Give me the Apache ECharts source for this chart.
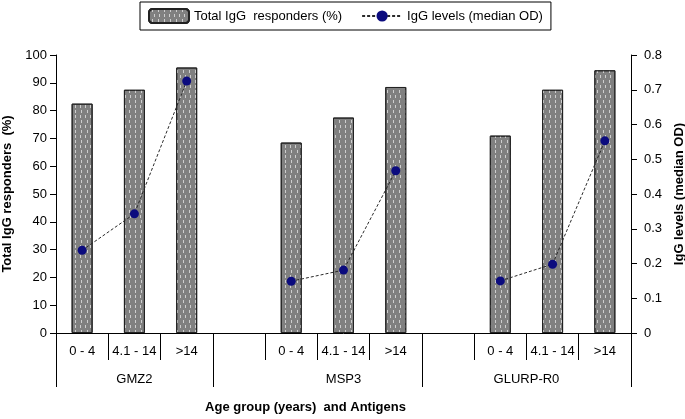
<!DOCTYPE html>
<html>
<head>
<meta charset="utf-8">
<script src="https://cdn.jsdelivr.net/npm/echarts@6/dist/echarts.min.js"></script>
<style>html,body{margin:0;padding:0;background:#fff}#c{width:685px;height:419px}</style>
</head>
<body>
<div id="c"></div>
<script>
const antigens = ['GMZ2', 'MSP3', 'GLURP-R0'];
const ageGroups = ['0 - 4', '4.1 - 14', '>14'];
const respGMZ2 = [82.5, 87.5, 95.5];
const respMSP3 = [68.5, 77.5, 88.5];
const respGLURP = [71, 87.5, 94.5];
const odGMZ2 = [0.238, 0.343, 0.725];
const odMSP3 = [0.149, 0.181, 0.467];
const odGLURP = [0.150, 0.198, 0.553];
const leftTicks = [0, 100, 10];
const rightTicks = [0, 0.8, 0.1];
const antigenLabelPos = [1.5, 5.5, 9];
const antigenBounds = [0, 3, 7, 11];

const respAll = [respGMZ2, respMSP3, respGLURP];
const odAll = [odGMZ2, odMSP3, odGLURP];
const categories = [], barData = [], lineData = [];
antigens.forEach((g, i) => {
  if (i > 0) { categories.push(''); barData.push('-'); lineData.push('-'); }
  ageGroups.forEach((a, j) => {
    categories.push(a);
    barData.push(respAll[i][j]);
    lineData.push(odAll[i][j]);
  });
});

const font = 'Liberation Sans, Arial, sans-serif';
const chart = echarts.init(document.getElementById('c'), null, {renderer: 'canvas'});
chart.setOption({
  animation: false,
  textStyle: {fontFamily: font, color: '#000'},
  grid: {left: 56, right: 54, top: 55, bottom: 86, containLabel: false, outerBoundsMode: 'none'},
  legend: {
    left: 140, top: 2,
    padding: [6, 8],
    borderColor: '#000', borderWidth: 1,
    itemWidth: 40, itemHeight: 14, itemGap: 19,
    textStyle: {fontFamily: font, fontSize: 13, color: '#000'},
    data: ['Total IgG  responders (%)', 'IgG levels (median OD)']
  },
  xAxis: [
    {
      type: 'category', data: categories, position: 'bottom', boundaryGap: true,
      axisLine: {show: true, lineStyle: {color: '#000', width: 1}},
      axisTick: {show: true, interval: 0, alignWithLabel: false, length: 27, lineStyle: {color: '#000', width: 1}},
      axisLabel: {interval: 0, margin: 12, fontSize: 13, color: '#000', fontFamily: font}
    },
    {
      type: 'value', min: antigenBounds[0], max: antigenBounds[antigenBounds.length - 1], position: 'bottom',
      splitLine: {show: false},
      axisLine: {show: false},
      axisTick: {show: true, length: 54, customValues: antigenBounds, lineStyle: {color: '#000'}},
      axisLabel: {
        customValues: antigenLabelPos, margin: 40, fontSize: 13, color: '#000', fontFamily: font,
        formatter: (v) => { const k = antigenLabelPos.indexOf(v); return k >= 0 ? antigens[k] : ''; }
      },
      name: 'Age group (years)  and Antigens', nameLocation: 'middle', nameGap: 68,
      nameTextStyle: {fontSize: 13, fontWeight: 'bold', color: '#000', fontFamily: font, padding: [0, 76, 0, 0]}
    }
  ],
  yAxis: [
    {
      type: 'value', min: leftTicks[0], max: leftTicks[1], interval: leftTicks[2], position: 'left',
      splitLine: {show: false},
      axisLine: {show: true, lineStyle: {color: '#000'}},
      axisTick: {show: true, length: 6, lineStyle: {color: '#000'}},
      axisLabel: {margin: 9, fontSize: 13, color: '#000', fontFamily: font},
      name: 'Total IgG responders  (%)', nameLocation: 'middle', nameGap: 36,
      nameTextStyle: {fontSize: 13, fontWeight: 'bold', color: '#000', fontFamily: font}
    },
    {
      type: 'value', min: rightTicks[0], max: rightTicks[1], interval: rightTicks[2], position: 'right',
      splitLine: {show: false},
      axisLine: {show: true, lineStyle: {color: '#000'}},
      axisTick: {show: true, length: 6, lineStyle: {color: '#000'}},
      axisLabel: {margin: 13, fontSize: 13, color: '#000', fontFamily: font, formatter: (v) => +v.toFixed(1) + ''},
      name: 'IgG levels (median OD)', nameLocation: 'middle', nameGap: 32,
      nameTextStyle: {fontSize: 13, fontWeight: 'bold', color: '#000', fontFamily: font}
    }
  ],
  series: [
    {
      name: 'Total IgG  responders (%)', type: 'bar', xAxisIndex: 0, yAxisIndex: 0,
      data: barData, barWidth: 21,
      itemStyle: {
        color: '#808080', borderColor: '#222', borderWidth: 1,
        decal: {
          symbol: 'rect', symbolSize: 1, color: 'rgba(225,225,225,0.8)',
          dashArrayX: [[1, 3.5], [0, 2.2, 1, 1.3]], dashArrayY: [3, 2], rotation: 0
        }
      }
    },
    {
      name: 'IgG levels (median OD)', type: 'line', xAxisIndex: 0, yAxisIndex: 1,
      data: lineData, connectNulls: false,
      symbol: 'circle', symbolSize: 9,
      itemStyle: {color: '#0b0b7e', borderWidth: 0},
      lineStyle: {color: '#2a2a2a', width: 1, type: [3, 2]}
    }
  ]
});
</script>
</body>
</html>
